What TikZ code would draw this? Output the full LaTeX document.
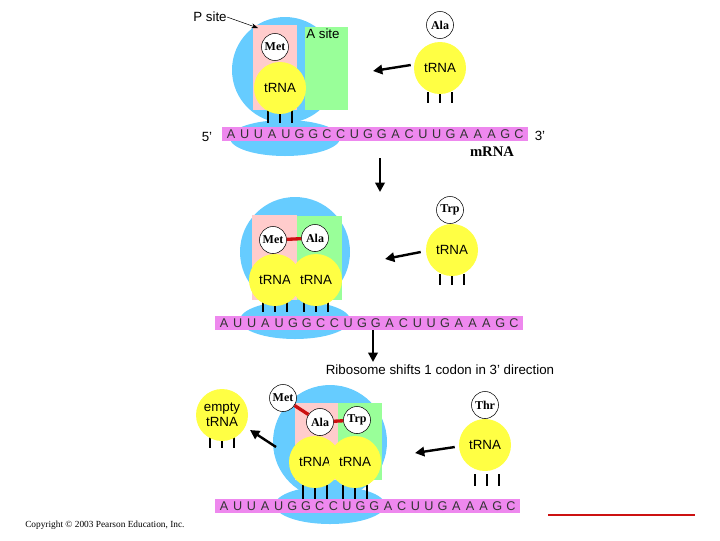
\documentclass[tikz,border=0pt]{standalone}
\usepackage{fontspec}
\setmainfont{Liberation Sans}
\newfontfamily\serifont{Liberation Serif}
\usetikzlibrary{arrows.meta}
\definecolor{ribo}{HTML}{66CCFF}
\definecolor{psite}{HTML}{FFCCCC}
\definecolor{asite}{HTML}{99FF99}
\definecolor{trna}{HTML}{FFFF44}
\definecolor{mrna}{HTML}{EE88EE}
\definecolor{bond}{HTML}{CC1111}
\tikzset{
 ribo/.style={fill=ribo,draw=none},
 trna/.style={circle,fill=trna,draw=none,minimum size=52*0.75pt,inner sep=0pt,font=\fontsize{10}{10}\selectfont},
 aa/.style={circle,fill=white,draw=black,minimum size=27*0.75pt,inner sep=0pt,font=\serifont\bfseries\fontsize{9}{9}\selectfont},
 leg/.style={line width=1.2pt},
 bond/.style={line width=2.5pt,color=bond},
 mov/.style={line width=1.8pt,-{Triangle[length=7pt,width=7pt]}},
 lab/.style={font=\fontsize{10}{10}\selectfont,inner sep=0pt},
 base/.style={font=\fontsize{9.5}{9.5}\selectfont,inner sep=0pt,color=black!80},
}
\newcommand{\strip}[3]{% x0,x1,y
 \fill[mrna] (#1,#3-7) rectangle (#2,#3+7);
 \foreach \b [count=\i from 0] in {A,U,U,A,U,G,G,C,C,U,G,G,A,C,U,U,G,A,A,A,G,C}{
  \node[base] at ({#1+9+\i*(#2-#1-18)/21},#3) {\b};}
}
\newcommand{\legs}[3]{% xc, y0, y1
 \foreach \dx in {-12,0,12} \draw[leg] (#1+\dx,#2) -- (#1+\dx,#3);}
\begin{document}
\begin{tikzpicture}[x=0.75pt,y=-0.75pt]
\useasboundingbox (0,0) rectangle (720,540);
% ---------- panel 1
\fill[ribo] (285,138) ellipse (55 and 18);
\fill[ribo] (285,70) circle (53);
\fill[psite] (253,25) rectangle (297,110);
\fill[asite] (305,27) rectangle (348,110);
\node[lab,anchor=north west] (asite) at (306,29) {A site};
\legs{280}{108}{123}
\node[trna] (t1) at (280,88) {tRNA};
\node[aa] (met1) at (275,47) {Met};
\strip{222}{528}{134}
\node[lab] (p5) at (207,137) {5'};
\node[lab] (p3) at (540,136) {3'};
\node[font=\serifont\bfseries\fontsize{11}{11}\selectfont,inner sep=0pt] (mrna) at (492,152) {mRNA};
\node[lab] (psite) at (210,17) {P site};
\coordinate (pend) at (258,28);
\draw[-{Stealth[length=5pt]}] (psite.east) -- (pend);
\legs{440}{92}{103}
\node[trna] (t2) at (440,68) {tRNA};
\node[aa] (ala1) at (440,25) {Ala};
\coordinate (a1) at (373,71);
\draw[mov] (t2.west) ++(-3,-3) -- (a1);
\coordinate (d1a) at (380,158);\coordinate (d1b) at (380,192);
\draw[mov] (d1a) -- (d1b);
% ---------- panel 2
\fill[ribo] (295,320) ellipse (55 and 19);
\fill[ribo] (295,252) circle (55);
\fill[psite] (252,215) rectangle (297,300);
\fill[asite] (297,216) rectangle (342,300);
\legs{275}{298}{312}\legs{316}{298}{312}
\node[trna] (t3) at (275,280) {tRNA};
\node[trna] (t4) at (316,280) {tRNA};
\node[aa] (met2) at (273,240) {Met};
\node[aa] (ala2) at (315,238) {Ala};
\draw[bond] (met2) -- (ala2);
\strip{215}{523}{323}
\legs{452}{274}{285}
\node[trna] (t5) at (452,250) {tRNA};
\node[aa] (trp1) at (450,210) {Trp};
\coordinate (a2) at (385,259);
\draw[mov] (t5.west) ++(-5,2) -- (a2);
\coordinate (d2a) at (373,330);\coordinate (d2b) at (373,362);
\draw[mov] (d2a) -- (d2b);
\node[lab] (shift) at (440,370) {Ribosome shifts 1 codon in 3' direction};
% ---------- panel 3
\fill[ribo] (330,505) ellipse (55 and 19);
\fill[ribo] (330,442) circle (57);
\fill[psite] (295,403) rectangle (338,480);
\fill[asite] (338,403) rectangle (382,480);
\legs{315}{485}{500}\legs{355}{485}{500}
\node[trna] (t6) at (315,462) {tRNA};
\node[trna] (t7) at (355,462) {tRNA};
\node[aa] (met3) at (283,398) {Met};
\node[aa] (ala3) at (320,422) {Ala};
\node[aa] (trp2) at (357,420) {Trp};
\draw[bond] (met3) -- (ala3);
\draw[bond] (ala3) -- (trp2);
\strip{215}{520}{506}
\legs{222}{437}{448}
\node[trna,align=center,font=\fontsize{10}{11}\selectfont] (t8) at (222,415) {empty\\tRNA};
\coordinate (a3) at (250,430);\coordinate (a3s) at (276,447);
\draw[mov] (a3s) -- (a3);
\legs{487}{474}{486}
\node[trna] (t9) at (485,445) {tRNA};
\node[aa] (thr) at (485,405) {Thr};
\coordinate (a4) at (415,453);
\draw[mov] (t9.west) ++(-4,2) -- (a4);
% ---------- footer
\node[font=\serifont\fontsize{7}{7}\selectfont,anchor=west,inner sep=0pt] (copy) at (25,525) {Copyright © 2003 Pearson Education, Inc.};
\draw[bond,line width=2pt] (548,515) -- (695,515);
\end{tikzpicture}
\end{document}
